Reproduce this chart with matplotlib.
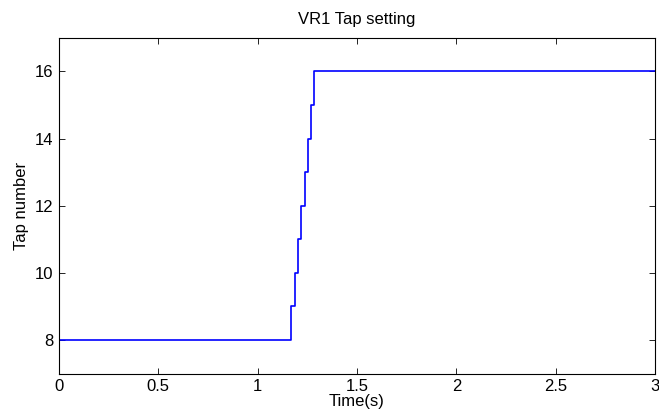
import matplotlib
matplotlib.use("Agg")
import matplotlib.pyplot as plt

plt.rcParams['font.family'] = ['Liberation Sans', 'DejaVu Sans']

# step change times (s) and tap values
times = [0.0, 1.170, 1.187, 1.204, 1.220, 1.236, 1.251, 1.267, 1.284, 3.0]
taps = [8, 9, 10, 11, 12, 13, 14, 15, 16, 16]
xticks = [0, 0.5, 1, 1.5, 2, 2.5, 3]
xticklabels = ['0', '0.5', '1', '1.5', '2', '2.5', '3']
yticks = [8, 10, 12, 14, 16]

fig = plt.figure(figsize=(6.59, 4.16), dpi=100)
ax = fig.add_axes([0.0895, 0.102, 0.9045, 0.807])
ax.step(times, taps, where='post', color='#0000ff', linewidth=1.2)
ax.set_xlim(0, 3)
ax.set_ylim(7, 17)
ax.set_xticks(xticks)
ax.set_xticklabels(xticklabels)
ax.set_yticks(yticks)
ax.tick_params(direction='in', top=True, right=True, labelsize=12, length=4, width=0.6, pad=4)
for s in ax.spines.values():
    s.set_linewidth(0.8)
ax.set_title('VR1 Tap setting', fontsize=12, pad=10)
ax.set_xlabel('Time(s)', fontsize=12, labelpad=0)
ax.set_ylabel('Tap number', fontsize=12, labelpad=4)
fig.savefig('out.png', dpi=100)
